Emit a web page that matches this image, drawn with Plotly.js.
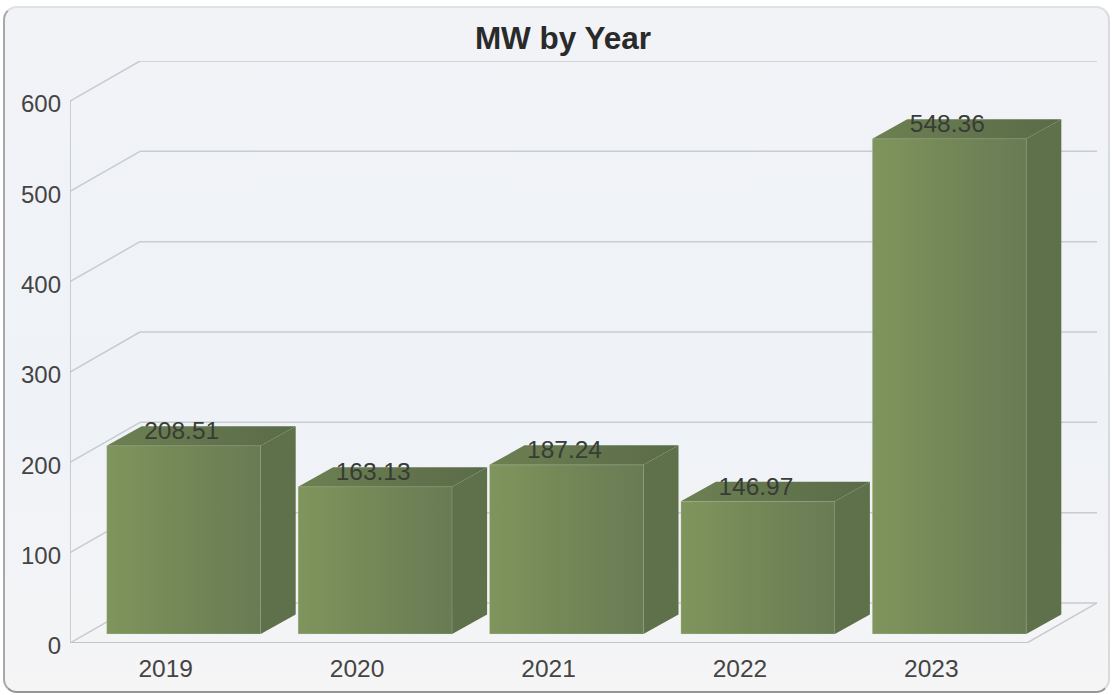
<!DOCTYPE html>
<html>
<head>
<meta charset="utf-8">
<script src="https://cdn.plot.ly/plotly-3.0.1.min.js"></script>
<style>
html,body{margin:0;padding:0;background:#fff;width:1112px;height:695px;overflow:hidden}
#card{position:absolute;left:3px;top:6px;width:1103px;height:683px;border:2px solid #b4b6b8;border-top-color:#dfe1e3;border-right-color:#d8dadc;border-bottom-color:#94969a;border-left-color:#a6a8aa;border-radius:14px;background:linear-gradient(180deg,#f1f3f7 0%,#eff2f7 60%,#f5f5f6 100%)}
#chart{position:absolute;left:0;top:0;width:1112px;height:695px}
</style>
</head>
<body>
<div id="card"></div>
<div id="chart"></div>
<script>
const categories = ['2019', '2020', '2021', '2022', '2023'];
const mwValues = [208.51, 163.13, 187.24, 146.97, 548.36];
const valueLabels = ['208.51', '163.13', '187.24', '146.97', '548.36'];
const yTicks = [0, 100, 200, 300, 400, 500, 600];

const W = 1112, H = 695;
const M = {l: 70, r: 15, t: 61, b: 52};
const slotPx = 191.4, unitPx = 0.9033;
const plotW = W - M.l - M.r, plotH = H - M.t - M.b;
const xRange = [-0.5, -0.5 + plotW / slotPx];
const yRange = [0, plotH / unitPx];
const dx = px => px / slotPx;
const dy = px => px / unitPx;

const wallX = dx(70), wallY = dy(40);
const xL = xRange[0];
const xR = xL + dx(957);
const xBackEnd = xRange[1];
const idx = categories.map((_, i) => i);

const barShiftX = dx(18), barBase = dy(9);
const barW = dx(154), depthX = dx(35), depthY = dy(19.5);

const lineStyle = {color: '#c8cbcf', width: 1.5};
const segment = (x0, y0, x1, y1, line) => ({type: 'line', layer: 'below', xref: 'x', yref: 'y', x0, y0, x1, y1, line: line || lineStyle});

const shapes = [];
yTicks.forEach(v => {
  shapes.push(segment(xL, v, xL + wallX, v + wallY));
  shapes.push(segment(xL + wallX, v + wallY, xBackEnd, v + wallY));
});
shapes.push(segment(xL, 0, xL, 600, {color: '#bcc0c4', width: 1.5}));
shapes.push(segment(xL, 0, xR, 0, {color: '#c2c4c8', width: 2}));
shapes.push(segment(xR, 0, xR + wallX, wallY));

const traces = [];
traces.push({
  type: 'bar', x: idx.map(i => i + barShiftX), y: mwValues, base: mwValues.map(() => barBase),
  width: barW, marker: {color: '#738757', line: {color: 'rgba(225,235,210,0.25)', width: 1}},
  hoverinfo: 'skip', showlegend: false, cliponaxis: false
});
mwValues.forEach((v, i) => {
  const left = i + barShiftX - barW / 2, right = left + barW, top = v + barBase;
  traces.push({
    type: 'scatter', mode: 'lines', showlegend: false, hoverinfo: 'skip',
    x: [left, right, right + depthX, left + depthX, left],
    y: [top, top, top + depthY, top + depthY, top],
    fill: 'toself', line: {width: 0},
    fillgradient: {type: 'horizontal', colorscale: [[0, '#6d8052'], [1, '#5a6b48']]}
  });
  traces.push({
    type: 'scatter', mode: 'lines', showlegend: false, hoverinfo: 'skip',
    x: [right, right + depthX, right + depthX, right, right],
    y: [barBase, barBase + depthY, top + depthY, top, barBase],
    fill: 'toself', line: {width: 0}, fillcolor: '#5f714b'
  });
});
traces.push({
  type: 'scatter', mode: 'text', showlegend: false, hoverinfo: 'skip',
  x: idx.map(i => i + barShiftX - dx(2)), y: mwValues.map(v => v + barBase + dy(12.5)),
  text: valueLabels, textposition: 'middle center', cliponaxis: false,
  textfont: {family: 'Liberation Sans, Arial, sans-serif', size: 24.5, color: '#383c36'}
});

const layout = {
  width: W, height: H, margin: M, paper_bgcolor: 'rgba(0,0,0,0)', plot_bgcolor: 'rgba(0,0,0,0)',
  showlegend: false, bargap: 0,
  title: {text: 'MW by Year', x: 563 / W, xanchor: 'center', y: 1 - 38 / H, yanchor: 'middle',
    font: {family: 'Liberation Sans, Arial, sans-serif', size: 31.5, color: '#2a2a2a', weight: 700}},
  xaxis: {range: xRange, tickmode: 'array', tickvals: idx, ticktext: categories, showgrid: false, zeroline: false, showline: false,
    ticks: '', ticklabelstandoff: 8, tickfont: {family: 'Liberation Sans, Arial, sans-serif', size: 24.5, color: '#444'}},
  yaxis: {range: yRange, tickmode: 'array', tickvals: yTicks, ticktext: yTicks.map(String), showgrid: false, zeroline: false, showline: false,
    ticks: '', ticklabelstandoff: 8, tickfont: {family: 'Liberation Sans, Arial, sans-serif', size: 24, color: '#444'}},
  shapes
};

Plotly.newPlot('chart', traces, layout, {displayModeBar: false, staticPlot: true}).then(gd => {
  const svg = gd.querySelector('.main-svg');
  const ns = 'http://www.w3.org/2000/svg';
  const defs = svg.querySelector('defs') || svg.insertBefore(document.createElementNS(ns, 'defs'), svg.firstChild);
  const g = document.createElementNS(ns, 'linearGradient');
  g.setAttribute('id', 'barFront');
  g.setAttribute('x1', '0'); g.setAttribute('x2', '1'); g.setAttribute('y1', '0'); g.setAttribute('y2', '0');
  [[0, '#80955d'], [0.5, '#738757'], [1, '#687b54']].forEach(([o, c]) => {
    const s = document.createElementNS(ns, 'stop');
    s.setAttribute('offset', o); s.setAttribute('stop-color', c);
    g.appendChild(s);
  });
  defs.appendChild(g);
  gd.querySelectorAll('.barlayer .point path').forEach(p => { p.style.fill = 'url(#barFront)'; });
  gd.querySelectorAll('.ytick text').forEach(t => { t.setAttribute('y', parseFloat(t.getAttribute('y')) + 3); });
});
</script>
</body>
</html>
